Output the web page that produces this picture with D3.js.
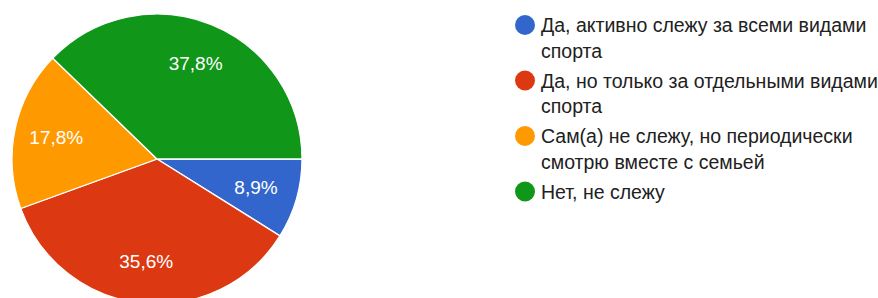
<!DOCTYPE html>
<html>
<head>
<meta charset="utf-8">
<script src="https://cdn.jsdelivr.net/npm/d3@7"></script>
<style>
  body { margin: 0; background: #fff; }
  svg { display: block; font-family: "Liberation Sans", Arial, sans-serif; }
</style>
</head>
<body>
<svg id="container" width="878" height="298"></svg>
<script>
const categories = [
  'Да, активно слежу за всеми видами спорта',
  'Да, но только за отдельными видами спорта',
  'Сам(а) не слежу, но периодически смотрю вместе с семьей',
  'Нет, не слежу'
];
const values = [8.9, 35.6, 17.8, 37.8];
const labels = ['8,9%', '35,6%', '17,8%', '37,8%'];
const colors = ['#3366cc', '#dc3912', '#ff9900', '#109618'];

const svg = d3.select('#container');
const CX = 157, CY = 159, R = 145;

const pie = d3.pie()
  .sort(null)
  .value(d => d)
  .startAngle(Math.PI / 2)
  .endAngle(Math.PI / 2 + 2 * Math.PI);

const arcs = pie(values);
const arc = d3.arc().innerRadius(0).outerRadius(R);
const labelArc = d3.arc().innerRadius(103).outerRadius(103);

const g = svg.append('g').attr('transform', `translate(${CX},${CY})`);

g.selectAll('path')
  .data(arcs)
  .enter()
  .append('path')
  .attr('d', arc)
  .attr('fill', (d, i) => colors[i])
  .attr('stroke', '#fff')
  .attr('stroke-width', 1.3);

g.selectAll('text')
  .data(arcs)
  .enter()
  .append('text')
  .attr('transform', d => `translate(${labelArc.centroid(d)})`)
  .attr('text-anchor', 'middle')
  .attr('dy', '0.36em')
  .attr('fill', '#fff')
  .attr('font-size', 19)
  .text((d, i) => labels[i]);

// legend
const legendX = 525, textX = 541, maxW = 340;
const lineH = 25.5, entryGap = 30;
let y = 25;

const legend = svg.append('g').attr('class', 'legend');
categories.forEach((c, i) => {
  const item = legend.append('g');
  item.append('circle')
    .attr('cx', legendX)
    .attr('cy', y)
    .attr('r', 10)
    .attr('fill', colors[i]);

  const text = item.append('text')
    .attr('x', textX)
    .attr('y', y)
    .attr('font-size', 19.5)
    .attr('fill', '#212121');

  // wrap words to the available width
  const words = c.split(' ');
  let line = [];
  let tspan = text.append('tspan').attr('x', textX).attr('dy', '0.36em');
  let n = 0;
  words.forEach(w => {
    line.push(w);
    tspan.text(line.join(' '));
    if (tspan.node().getComputedTextLength() > maxW && line.length > 1) {
      line.pop();
      tspan.text(line.join(' '));
      line = [w];
      n++;
      tspan = text.append('tspan').attr('x', textX).attr('dy', lineH).text(w);
    }
  });
  y += n * lineH + entryGap;
});
</script>
</body>
</html>
